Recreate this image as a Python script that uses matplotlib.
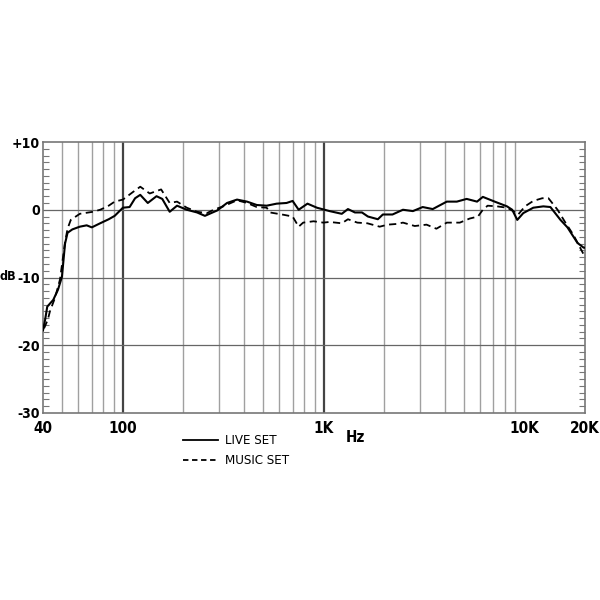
import numpy as np
import matplotlib.pyplot as plt
from matplotlib.ticker import MultipleLocator, NullLocator, NullFormatter

# LIVE SET (solid)
live_freq = [40, 41, 42, 45, 47.5, 49.7, 51.5, 53, 56, 61, 66, 70, 77, 85, 91,
             100, 108, 115, 122, 133, 147, 157, 171, 186, 208, 234, 256, 295,
             330, 370, 415, 464, 520, 583, 653, 700, 750, 830, 925, 1070, 1230,
             1320, 1430, 1550, 1660, 1860, 1970, 2200, 2480, 2780, 3110, 3490,
             4100, 4600, 5150, 5800, 6200, 7100, 8180, 8680, 9200, 9850, 11050,
             12400, 13450, 15100, 16350, 18350, 19700, 20000]
live_db = [-17.8, -16.2, -14.3, -13.3, -11.8, -9.9, -5.0, -3.4, -2.9, -2.5, -2.3,
           -2.6, -2.0, -1.4, -0.9, 0.3, 0.4, 1.7, 2.2, 1.0, 2.0, 1.6, -0.3, 0.6,
           0.0, -0.4, -0.9, -0.1, 1.0, 1.5, 1.2, 0.7, 0.6, 0.9, 1.0, 1.3, 0.0,
           0.9, 0.3, -0.2, -0.6, 0.1, -0.4, -0.4, -1.0, -1.4, -0.7, -0.7, 0.0,
           -0.2, 0.4, 0.1, 1.2, 1.2, 1.6, 1.2, 1.9, 1.2, 0.5, 0.0, -1.5, -0.5,
           0.3, 0.5, 0.4, -1.5, -2.6, -4.9, -5.6, -5.6]

# MUSIC SET (dashed)
music_freq = [40.5, 42.3, 43.3, 45.9, 48.6, 51.5, 53, 55, 61, 71, 77, 84, 91, 100,
              112, 122, 136, 155, 171, 186, 208, 234, 262, 283, 316, 370, 415,
              464, 520, 540, 620, 700, 750, 790, 890, 995, 1070, 1230, 1320, 1470,
              1650, 1900, 2080, 2300, 2480, 2840, 3250, 3640, 4100, 4760, 5330,
              5860, 6200, 6550, 7300, 8180, 8780, 9300, 10050, 11050, 12250,
              13150, 14600, 15900, 17500, 18600, 19700, 20000]
music_db = [-17.5, -16.2, -15.0, -13.0, -10.3, -4.8, -2.8, -1.5, -0.6, -0.3, 0.0,
            0.5, 1.2, 1.5, 2.6, 3.4, 2.4, 3.0, 1.0, 1.2, 0.3, -0.3, -0.5, 0.0,
            0.5, 1.4, 1.0, 0.4, 0.3, -0.4, -0.7, -1.0, -2.5, -1.9, -1.7, -1.9,
            -1.8, -2.0, -1.4, -1.9, -2.0, -2.5, -2.2, -2.1, -1.9, -2.4, -2.2,
            -2.8, -1.9, -1.9, -1.3, -1.0, 0.0, 0.6, 0.5, 0.3, -0.2, -0.7, 0.5,
            1.3, 1.7, 1.7, 0.0, -1.8, -3.7, -5.2, -6.6, -6.8]

x_ticks = [40, 100, 1000, 10000, 20000]
x_labels = ["40", "100", "1K", "10K", "20K"]
y_ticks = [10, 0, -10, -20, -30]
y_labels = ["+10", "0", "-10", "-20", "-30"]

FONT = "DejaVu Sans"
BOLD = dict(family=FONT, fontweight="bold", fontstretch="condensed", fontsize=11)


def main():
    fig = plt.figure(figsize=(6, 6), dpi=100)
    ax = fig.add_axes([43 / 600, 187 / 600, 542 / 600, 271 / 600])

    ax.set_xscale("log")
    ax.set_xlim(40, 20000)
    ax.set_ylim(-30, 10)

    # vertical grid
    for dec in [10, 100, 1000]:
        for m in range(1, 10):
            f = dec * m
            if f <= 40 or f >= 20000:
                continue
            if m == 1:
                ax.axvline(f, color="#444444", lw=1.6, zorder=1)
            else:
                ax.axvline(f, color="#a0a0a0", lw=1.0, zorder=1)
    for v in [0, -10, -20]:
        ax.axhline(v, color="#666666", lw=0.9, zorder=1)

    ax.plot(live_freq, live_db, color="black", lw=1.5, zorder=3, label="LIVE SET")
    ax.plot(music_freq, music_db, color="black", lw=1.3, ls=(0, (4, 2.5)),
            zorder=3, label="MUSIC SET")

    for s in ax.spines.values():
        s.set_color("#777777")
        s.set_linewidth(1.2)

    ax.xaxis.set_minor_locator(NullLocator())
    ax.xaxis.set_minor_formatter(NullFormatter())
    ax.set_xticks(x_ticks)
    ax.set_xticklabels(x_labels)
    ax.tick_params(axis="x", length=0, pad=6)

    ax.set_yticks(y_ticks)
    ax.set_yticklabels(y_labels)
    ax.yaxis.set_minor_locator(MultipleLocator(1))
    ax.tick_params(axis="y", which="major", length=0, pad=2)
    ax.tick_params(axis="y", which="minor", direction="in", length=4,
                   width=0.8, color="#777777", left=True, right=True)

    for lab in ax.get_xticklabels():
        lab.set_family(FONT)
        lab.set_fontweight("bold")
        lab.set_fontstretch("condensed")
        lab.set_fontsize(11)
    for lab in ax.get_yticklabels():
        lab.set_family(FONT)
        lab.set_fontweight("bold")
        lab.set_fontstretch("condensed")
        lab.set_fontsize(10)

    fig.text(0, 1 - 277 / 600, "dB", ha="left", va="center",
             family=FONT, fontweight="bold", fontstretch="condensed", fontsize=9)
    fig.text(355 / 600, 1 - 438 / 600, "Hz", ha="center", va="center", **BOLD)

    # legend
    fig.add_artist(plt.Line2D([183 / 600, 218 / 600], [1 - 440 / 600] * 2,
                              color="black", lw=1.3))
    fig.add_artist(plt.Line2D([183 / 600, 218 / 600], [1 - 460 / 600] * 2,
                              color="black", lw=1.3, ls=(0, (3, 2))))
    fig.text(225 / 600, 1 - 440 / 600, "LIVE SET", ha="left", va="center",
             family=FONT, fontstretch="condensed", fontsize=9.5)
    fig.text(225 / 600, 1 - 460 / 600, "MUSIC SET", ha="left", va="center",
             family=FONT, fontstretch="condensed", fontsize=9.5)

    fig.savefig("out.png", dpi=100)


if __name__ == "__main__":
    main()
